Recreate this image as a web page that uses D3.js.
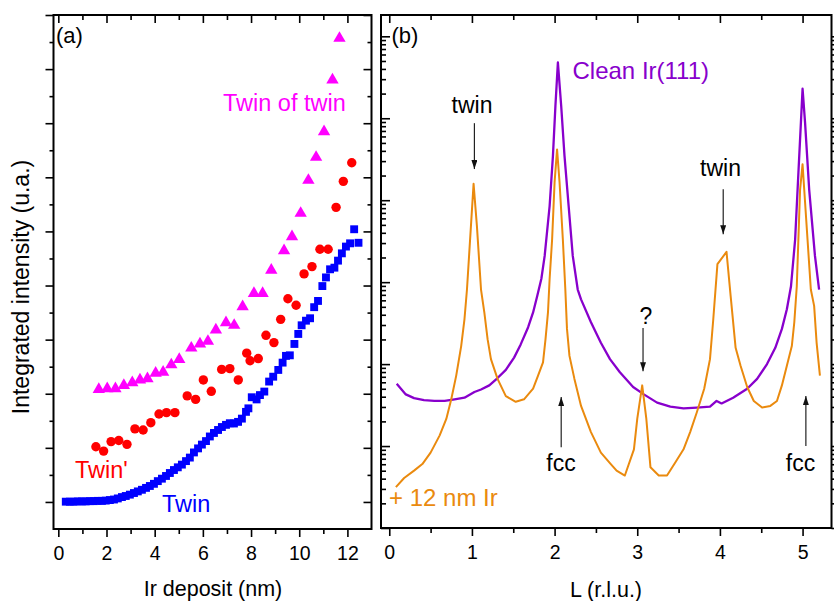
<!DOCTYPE html>
<html><head><meta charset="utf-8">
<script src="https://cdn.jsdelivr.net/npm/d3@7"></script>
<style>body{margin:0;background:#fff} svg{display:block} text{font-family:"Liberation Sans",Arial,sans-serif}</style>
</head><body><svg id="c" width="834" height="601"></svg>
<script>
// ---------- Panel (a): integrated intensity vs Ir deposit (arb. linear units) ----------
const twinX = [0.31,0.48,0.64,0.81,0.98,1.14,1.31,1.47,1.64,1.81,1.97,2.14,2.31,2.47,2.64,2.80,2.97,3.14,3.30,3.47,3.64,3.80,3.97,4.13,4.30,4.47,4.63,4.80,4.96,5.13,5.30,5.46,5.63,5.80,5.96,6.13,6.29,6.46,6.63,6.79,6.96,7.12,7.29,7.46,7.62,7.79,
  7.89,8.03,8.23,8.37,8.55,8.75,8.92,9.13,9.31,9.45,9.61,9.80,9.96,10.10,10.28,10.45,10.62,10.78,10.96,11.11,11.28,11.46,11.61,11.77,11.94,12.11,12.28,12.46];
const twinY = [1.01,1.01,1.01,1.02,1.02,1.02,1.03,1.03,1.04,1.04,1.05,1.07,1.09,1.13,1.18,1.22,1.27,1.33,1.39,1.45,1.52,1.59,1.67,1.77,1.86,1.96,2.07,2.18,2.28,2.38,2.51,2.64,2.83,2.98,3.12,3.25,3.42,3.55,3.66,3.77,3.85,3.91,3.90,3.96,4.08,4.33,
  4.46,4.87,4.79,4.95,5.08,5.45,5.63,5.88,6.15,6.40,6.42,6.84,7.21,7.53,7.70,7.79,8.20,8.43,8.98,9.30,9.60,9.66,9.92,10.19,10.44,10.56,11.08,10.58];
const twinPX = [1.56,1.88,2.19,2.51,2.85,3.18,3.52,3.84,4.18,4.49,4.84,5.35,5.70,6.02,6.35,6.78,7.12,7.47,7.82,7.96,8.30,8.62,8.95,9.23,9.53,9.87,10.20,10.53,10.86,11.20,11.53,11.83,12.18];
const twinPY = [3.04,2.88,3.23,3.27,3.13,3.70,3.66,3.93,4.25,4.30,4.30,4.92,4.79,5.51,5.09,5.90,5.93,5.51,6.50,6.22,6.30,7.16,6.89,7.75,8.51,8.27,9.43,9.70,10.34,10.34,11.89,12.85,13.54];
const totX = [1.68,2.03,2.37,2.72,3.07,3.39,3.70,4.04,4.35,4.69,5.02,5.52,5.88,6.21,6.54,6.96,7.30,7.65,8.12,8.48,8.84,9.37,9.70,10.06,10.38,10.70,11.03,11.38,11.67];
const totY = [5.16,5.19,5.19,5.31,5.41,5.51,5.56,5.76,5.80,6.07,6.27,6.69,6.84,6.94,7.36,7.63,7.53,8.22,8.71,8.71,9.57,10.29,10.81,11.67,12.89,13.74,14.69,16.6,18.14];
const depositTicks = [0,2,4,6,8,10,12];

// ---------- Panel (b): L scans (log intensity) ----------
const cleanL = [0.09,0.20,0.30,0.42,0.545,0.67,0.79,0.91,1.03,1.11,1.21,1.31,1.41,1.51,1.59,1.68,1.74,1.79,1.84,1.88,1.94,1.98,2.01,2.04,2.08,2.12,2.17,2.22,2.28,2.32,2.44,2.56,2.67,2.79,2.95,3.08,3.24,3.40,3.56,3.72,3.88,3.96,4.02,4.16,4.33,4.45,4.57,4.67,4.75,4.81,4.86,4.91,4.95,4.98,5.00,5.03,5.08,5.15,5.20];
const cleanI = [57.5,42.7,38.5,36.3,35.5,35.5,37.2,38.9,45.7,49,55,67.6,85,120,174,282,427,676,1100,2090,8500,34700,141000,479000,141000,34700,8500,2090,813,617,324,182,115,79.4,52.5,42.7,33.9,30.2,28.8,29.5,30.2,35.5,33.1,38.9,50.1,66,100,158,269,468,891,3310,21900,89100,229000,89100,13500,2090,813];
const irL = [0.08,0.18,0.30,0.40,0.50,0.61,0.69,0.75,0.81,0.87,0.91,0.94,1.02,1.06,1.11,1.15,1.19,1.23,1.31,1.41,1.53,1.63,1.74,1.80,1.86,1.89,1.92,1.94,1.97,2.00,2.03,2.06,2.10,2.13,2.15,2.18,2.24,2.32,2.44,2.56,2.68,2.75,2.85,2.96,3.00,3.06,3.11,3.16,3.26,3.36,3.46,3.56,3.64,3.72,3.81,3.88,3.92,3.97,4.08,4.13,4.19,4.25,4.33,4.41,4.51,4.61,4.69,4.75,4.81,4.87,4.90,4.93,4.97,5.00,5.02,5.06,5.10,5.14,5.17,5.21];
const irI = [3.16,4.07,5.01,6.03,8.32,13.5,21.4,37.2,72.4,166,355,813,15850,4900,813,427,200,115,66,40.7,34.7,37.2,50.1,72.4,105,200,427,1100,3310,16600,41700,16600,3310,813,269,126,66,30.9,14.8,8.32,6.03,5.01,4.37,9.12,21.4,55,21.4,5.5,4.37,4.37,6.31,9.12,14.8,25.7,50.1,115,355,1660,2340,676,158,95.5,52.5,35.5,29.5,30.9,35.5,55,95.5,166,324,891,13500,27500,13500,3310,813,513,182,72.4];
const lTicks = [0,1,2,3,4,5];
// arrows: [L, from intensity, to intensity]
const arrows = [[1.03,87100,24000],[4.04,13600,3850],[3.07,275,82],[2.08,9.7,39.6],[5.04,10,40.7]];

const C_TWIN = '#0000FF', C_TWINP = '#FF0000', C_TOT = '#FF00FF', C_CLEAN = '#8800CC', C_IR = '#EA8A0E';
const FONT = '"Liberation Sans",Arial,sans-serif';

const svg = d3.select('#c');
svg.append('rect').attr('width',834).attr('height',601).attr('fill','#fff');
const defs = svg.append('defs');
defs.append('marker').attr('id','ah').attr('viewBox','0 0 10 10').attr('refX',10).attr('refY',5)
  .attr('markerWidth',9).attr('markerHeight',6).attr('markerUnits','userSpaceOnUse').attr('orient','auto')
  .attr('preserveAspectRatio','none')
  .append('path').attr('d','M0,0L10,5L0,10z').attr('fill','#111');

const A = {l:53.5, r:371.5, t:15, b:529};
const B = {l:381, r:831.5, t:15, b:528};
const xA = d3.scaleLinear().domain([-0.2,13]).range([A.l,A.r]);
const yA = d3.scaleLinear().domain([0,19]).range([A.b,A.t]);
const xB = d3.scaleLinear().domain([-0.1,5.35]).range([B.l,B.r]);
const yB = d3.scaleLog().domain([1,1.82e6]).range([B.b,B.t]);

function axis(gen, tr, vals, size, labels){
  const g = svg.append('g').attr('transform',tr)
    .call(gen.tickValues(vals).tickSizeInner(size).tickSizeOuter(0).tickPadding(9.5)
      .tickFormat(labels ? d3.format('d') : () => ''));
  g.select('.domain').remove();
  g.attr('font-size',19.5).attr('font-family',FONT);
  g.selectAll('line').attr('stroke','#000').attr('stroke-width',1.6);
  g.selectAll('text').attr('fill','#000');
  return g;
}
// Panel A axes
const aMinorX = [1,3,5,7,9,11];
const aMajY = d3.range(1,20,2), aMinY = d3.range(2,19,2);
axis(d3.axisBottom(xA), `translate(0,${A.b})`, depositTicks, 8, true);
axis(d3.axisBottom(xA), `translate(0,${A.b})`, aMinorX, 5, false);
axis(d3.axisTop(xA), `translate(0,${A.t})`, depositTicks, -8, false);
axis(d3.axisTop(xA), `translate(0,${A.t})`, aMinorX, -5, false);
axis(d3.axisLeft(yA), `translate(${A.l},0)`, aMajY, 8, false);
axis(d3.axisLeft(yA), `translate(${A.l},0)`, aMinY, 4, false);
axis(d3.axisRight(yA), `translate(${A.r},0)`, aMajY, -8, false);
axis(d3.axisRight(yA), `translate(${A.r},0)`, aMinY, -4, false);
// Panel B axes
const bMinorX = [0.5,1.5,2.5,3.5,4.5];
const decades = d3.range(0,7).map(k => Math.pow(10,k));
const logMinor = [];
decades.forEach(d => { for (let m=2;m<=9;m++){ const v=m*d; if (v<1.82e6) logMinor.push(v);} });
axis(d3.axisBottom(xB), `translate(0,${B.b})`, lTicks, 8, true);
axis(d3.axisBottom(xB), `translate(0,${B.b})`, bMinorX, 5, false);
axis(d3.axisTop(xB), `translate(0,${B.t})`, lTicks, -8, false);
axis(d3.axisTop(xB), `translate(0,${B.t})`, bMinorX, -5, false);
axis(d3.axisLeft(yB), `translate(${B.l},0)`, decades, -9, false);
axis(d3.axisLeft(yB), `translate(${B.l},0)`, logMinor, -5, false);
axis(d3.axisRight(yB), `translate(${B.r},0)`, decades, 9, false);
axis(d3.axisRight(yB), `translate(${B.r},0)`, logMinor, 5, false);

// Panel A markers
const gA = svg.append('g');
gA.selectAll('.sq').data(d3.zip(twinX,twinY)).join('path')
  .attr('d', d3.symbol(d3.symbolSquare, 62)()).attr('fill',C_TWIN)
  .attr('transform', d => `translate(${xA(d[0])},${yA(d[1])})`);
gA.selectAll('.ci').data(d3.zip(twinPX,twinPY)).join('circle')
  .attr('cx', d => xA(d[0])).attr('cy', d => yA(d[1])).attr('r',4.7).attr('fill',C_TWINP);
gA.selectAll('.tr').data(d3.zip(totX,totY)).join('path')
  .attr('d', d3.symbol(d3.symbolTriangle, 66)()).attr('fill',C_TOT)
  .attr('transform', d => `translate(${xA(d[0])},${yA(d[1])})`);

// Panel B lines
const line = d3.line().x(d => xB(d[0])).y(d => yB(d[1]));
svg.append('path').datum(d3.zip(cleanL,cleanI)).attr('d',line).attr('fill','none')
  .attr('stroke',C_CLEAN).attr('stroke-width',2.3).attr('stroke-linejoin','round');
svg.append('path').datum(d3.zip(irL,irI)).attr('d',line).attr('fill','none')
  .attr('stroke',C_IR).attr('stroke-width',2).attr('stroke-linejoin','round');

// arrows
svg.selectAll('.arr').data(arrows).join('line')
  .attr('x1', d => xB(d[0])).attr('x2', d => xB(d[0]))
  .attr('y1', d => yB(d[1])).attr('y2', d => yB(d[2]))
  .attr('stroke','#222').attr('stroke-width',1.2).attr('marker-end','url(#ah)');

// frames
[A,B].forEach(p => svg.append('rect').attr('x',p.l).attr('y',p.t).attr('width',p.r-p.l).attr('height',p.b-p.t)
  .attr('fill','none').attr('stroke','#000').attr('stroke-width',2));

// texts
function txt(x,y,s,fill,size,anchor){
  return svg.append('text').attr('x',x).attr('y',y).text(s).attr('fill',fill)
    .attr('font-size',size).attr('font-family',FONT).attr('text-anchor',anchor||'start');
}
txt(56,43,'(a)','#000',22);
txt(391.5,43,'(b)','#000',22);
txt(223,111,'Twin of twin',C_TOT,23.5);
txt(75,478,"Twin'",C_TWINP,23.5);
txt(162,512,'Twin',C_TWIN,23.5);
txt(572.5,79,'Clean Ir(111)',C_CLEAN,24);
txt(389,506,'+ 12 nm Ir',C_IR,24);
txt(472,113,'twin','#000',23,'middle');
txt(720.5,176,'twin','#000',23,'middle');
txt(646,324,'?','#000',23,'middle');
txt(561,471,'fcc','#000',23,'middle');
txt(800.5,471,'fcc','#000',23,'middle');
txt(213,596,'Ir deposit (nm)','#000',21.5,'middle');
txt(606,597,'L (r.l.u.)','#000',21.5,'middle');
svg.append('text').attr('transform','translate(29,287) rotate(-90)').attr('text-anchor','middle')
  .attr('font-size',23).attr('font-family',FONT).text('Integrated intensity (u.a.)');
</script></body></html>
